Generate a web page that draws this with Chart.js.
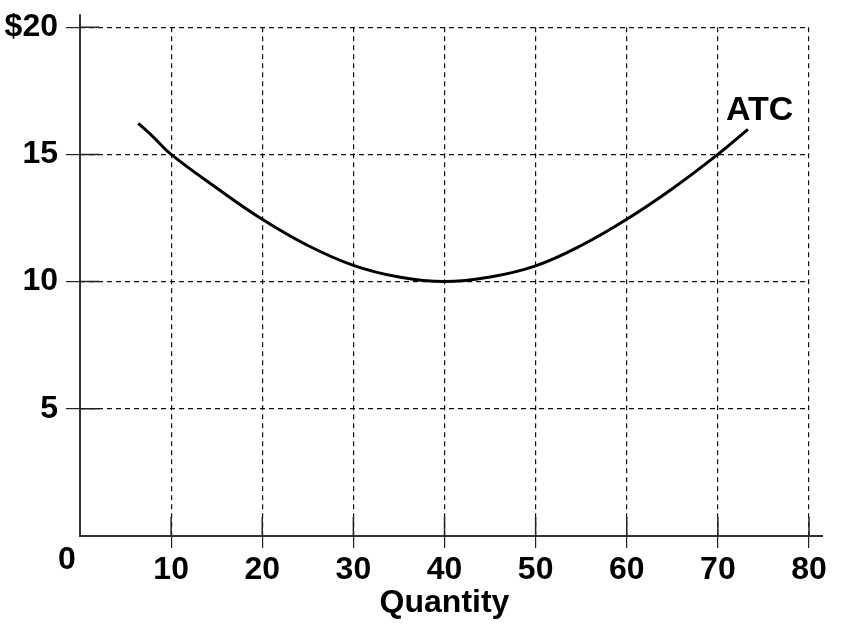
<!DOCTYPE html>
<html>
<head>
<meta charset="utf-8">
<script src="https://cdn.jsdelivr.net/npm/chart.js"></script>
<style>
  html,body{margin:0;padding:0;background:#fff}
  #wrap{width:841px;height:625px;position:relative}
</style>
</head>
<body>
<div id="wrap"><canvas id="grafik"></canvas></div>
<script>
// ================= DATA =================
const quantity = [6.4, 8, 10, 15, 20, 25, 30, 35, 40, 45, 50, 55, 60, 65, 70, 73.3];
const atc      = [16.22, 15.7, 15.0, 13.68, 12.45, 11.42, 10.64, 10.18, 10.0, 10.18, 10.62, 11.42, 12.45, 13.65, 15.0, 15.98];
const xTicks = [10, 20, 30, 40, 50, 60, 70, 80];
const yTicks = [5, 10, 15, 20];
const seriesName = "ATC";
const xTitle = "Quantity";

const FONT = "'Liberation Sans', Arial, sans-serif";

// ================= AXES + LABELS =================
const axisPlugin = {
  id: "axisPlugin",
  afterDatasetsDraw(chart) {
    const ctx = chart.ctx;
    const x = chart.scales.x, y = chart.scales.y;
    const x0 = x.getPixelForValue(0), y0 = y.getPixelForValue(0);
    ctx.save();
    // main axis lines (a bit longer than the plot)
    ctx.strokeStyle = "#333";
    ctx.lineWidth = 2;
    ctx.setLineDash([]);
    ctx.beginPath();
    ctx.moveTo(x0, y.getPixelForValue(20) - 13);
    ctx.lineTo(x0, y0);
    ctx.lineTo(x.getPixelForValue(80) + 14, y0);
    ctx.stroke();
    // short solid tick parts inside the plot
    ctx.lineWidth = 1.5;
    ctx.strokeStyle = "#222";
    ctx.beginPath();
    xTicks.forEach(v => {
      const px = x.getPixelForValue(v);
      ctx.moveTo(px, y0);
      ctx.lineTo(px, y0 - 19);
    });
    yTicks.forEach(v => {
      const py = y.getPixelForValue(v);
      ctx.moveTo(x0, py);
      ctx.lineTo(x0 + 19, py);
    });
    ctx.stroke();
    // origin label
    ctx.fillStyle = "#000";
    ctx.font = "bold 32px " + FONT;
    ctx.textAlign = "center";
    ctx.textBaseline = "alphabetic";
    ctx.fillText("0", x0 - 13, y0 + 33);
    // curve name
    const n = quantity.length - 1;
    ctx.font = "bold 34px " + FONT;
    ctx.textAlign = "left";
    ctx.fillText(seriesName, x.getPixelForValue(quantity[n]) - 22, y.getPixelForValue(atc[n]) - 9);
    ctx.restore();
  }
};

new Chart(document.getElementById("grafik"), {
  type: "line",
  data: {
    datasets: [{
      label: seriesName,
      data: quantity.map((q, i) => ({x: q, y: atc[i]})),
      borderColor: "#000",
      borderWidth: 3,
      pointRadius: 0,
      tension: 0.4,
      fill: false
    }]
  },
  plugins: [axisPlugin],
  options: {
    responsive: true,
    maintainAspectRatio: false,
    animation: false,
    layout: {padding: {top: 23, right: 32, left: 0, bottom: 0}},
    plugins: {legend: {display: false}, tooltip: {enabled: false}},
    scales: {
      x: {
        type: "linear",
        min: 0, max: 80,
        afterBuildTicks: s => { s.ticks = xTicks.map(v => ({value: v})); },
        afterFit: s => { s.height = 89; },
        grid: {
          color: "#111",
          lineWidth: 1.2,
          tickColor: "#222",
          tickLength: 12,
          drawTicks: true
        },
        border: {display: false, dash: [5, 4]},
        ticks: {
          color: "#000",
          padding: 3,
          maxRotation: 0,
          font: {family: FONT, size: 32, weight: "bold"}
        },
        title: {
          display: true,
          text: xTitle,
          color: "#000",
          padding: {top: 0, bottom: 3},
          font: {family: FONT, size: 32, weight: "bold"}
        }
      },
      y: {
        min: 0, max: 20,
        afterBuildTicks: s => { s.ticks = yTicks.map(v => ({value: v})); },
        afterFit: s => { s.width = 80; },
        grid: {
          color: "#111",
          lineWidth: 1.2,
          tickColor: "#222",
          tickLength: 14
        },
        border: {display: false, dash: [5, 4]},
        ticks: {
          color: "#000",
          padding: 8,
          callback: v => v === 20 ? "$20" : String(v),
          font: {family: FONT, size: 32, weight: "bold"}
        }
      }
    }
  }
});
</script>
</body>
</html>
